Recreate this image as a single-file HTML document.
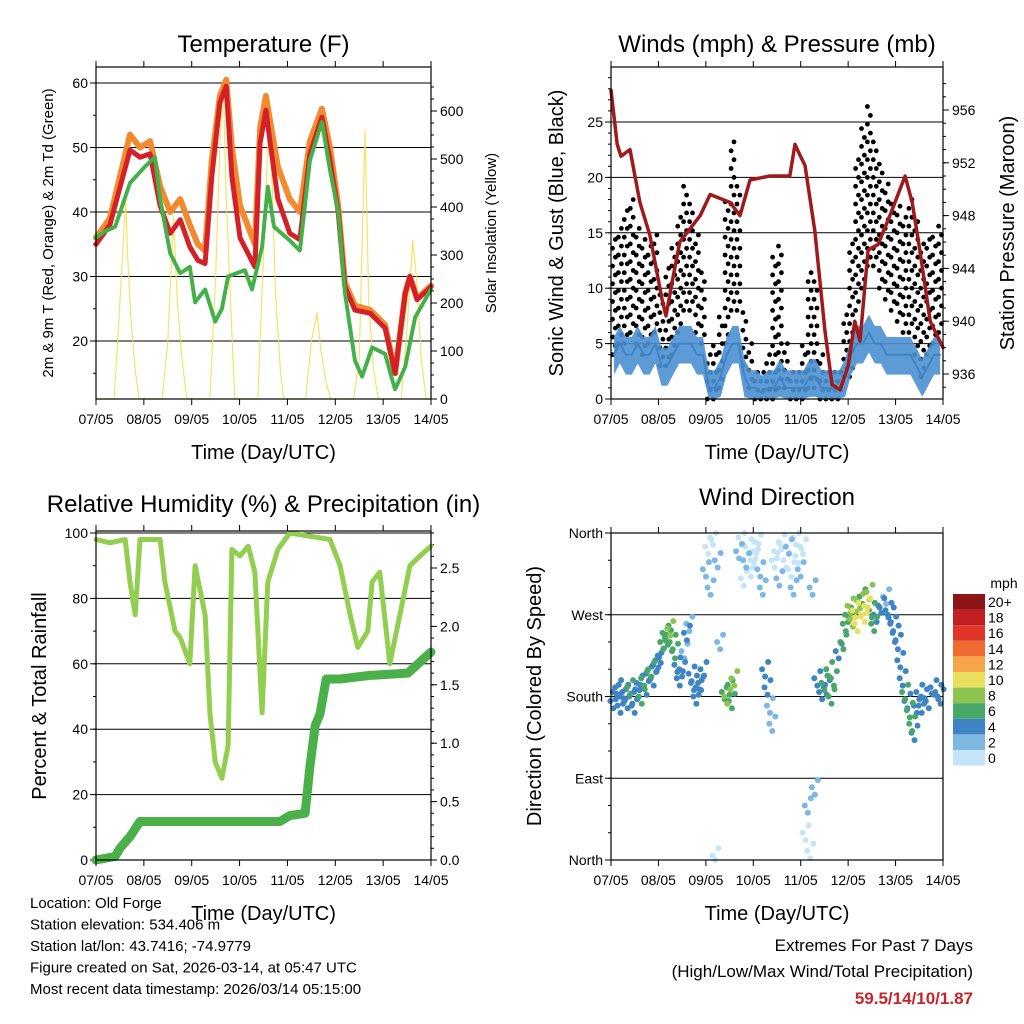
<!DOCTYPE html>
<html><head><meta charset="utf-8">
<style>
body{margin:0;background:#fff;}
svg{display:block;font-family:"Liberation Sans",sans-serif;}
</style></head>
<body>
<svg id="fig" width="1024" height="1024" viewBox="0 0 1024 1024" xmlns="http://www.w3.org/2000/svg"></svg>
<script>
// ---------- DATA ----------
const dayLabels = ["07/05","08/05","09/05","10/05","11/05","12/05","13/05","14/05"];
// Temperature panel
const tempTime = [0,.29,.71,.92,1.13,1.34,1.55,1.76,1.96,2.13,2.28,2.42,2.59,2.72,2.84,3.01,3.32,3.43,3.55,3.64,3.80,4.05,4.26,4.47,4.72,4.89,5.06,5.20,5.41,5.73,6.04,6.25,6.46,6.56,6.71,7];
const tempRed    = [35,38,49.6,48.5,49,41,36.7,38.8,34.6,32.5,32,45.5,57,59.5,45.5,36,31.5,50.7,55.8,50.7,42,36.7,35.7,49,54.7,48,40,28.4,24.8,24.3,22,15,27.4,30,26.4,28.4];
const tempOrange = [36,39,52,50,51,44,40,42,38,35,34,48,58,60.5,50,41,35,53,58,54,47,42,40,51,56,50,41,29,25.5,24.8,22.5,15,27.4,30,26.6,28.6];
const dewTime = [0,.19,.40,.71,1.02,1.23,1.34,1.55,1.76,1.96,2.07,2.28,2.49,2.63,2.76,3.11,3.26,3.47,3.59,3.72,4.03,4.26,4.47,4.72,4.89,5.06,5.20,5.41,5.56,5.77,6.04,6.19,6.25,6.46,6.67,7];
const dewGreen = [36,37,37.7,44.5,47,48.5,42,33.6,30.5,31.5,26,28,23,25,30,31,28,34.6,44,37.7,35.7,34,48,54,46.5,40,27.5,17,14.5,19,18,14,12.5,16,23.7,28];
const solarTime = [0,.38,.5,.62,.66,.72,.82,.9,1.38,1.5,1.62,1.7,1.8,1.9,2.38,2.5,2.6,2.66,2.72,2.82,2.9,3.38,3.5,3.62,3.68,3.75,3.85,3.92,4.38,4.5,4.62,4.7,4.8,4.9,5.38,5.5,5.62,5.7,5.8,5.9,6.38,6.5,6.62,6.7,6.8,6.9,7];
const solarVal  = [0,0,200,420,300,180,60,0,0,120,380,200,80,0,0,250,560,650,420,180,0,0,300,600,450,220,60,0,0,120,180,100,40,0,0,80,560,200,60,0,0,150,330,250,80,0,0];
// Winds panel (3-hour bins, 8 per day)
const gustLo = [4,5,5,6,5,4,5,6, 3,3,4,6,8,8,6,5, 0,0,1,5,8,8,3,1, 0,0,0,0,1,1,0,0, 0,1,1,0,0,0,0,2, 2,8,10,12,12,10,9,8, 7,6,6,4,2,4,5,6];
const gustHi = [15,16,17,18,16,15,14,15, 10,12,14,17,20,18,15,12, 4,5,8,18,24,20,8,5, 3,3,4,13,14,5,3,3, 5,12,11,4,3,3,3,8, 14,22,25,27,24,22,20,18, 18,17,18,16,14,15,15,16];
const windMean = [4,5,4,4,5,4,4,5, 3,3,4,5,5,5,4,4, 1,1,2,4,5,5,2,1, 1,0.5,1,1,2,1,1,1, 1,2,2,1,1,1,1,2, 4,5,5,6,5,5,4,4, 4,4,4,3,2,3,4,4];
const presTime = [0,.13,.21,.40,.61,.82,1.08,1.16,1.29,1.45,1.88,2.09,2.51,2.72,2.93,3.35,3.77,3.88,3.98,4.09,4.30,4.51,4.66,4.83,5.00,5.14,5.25,5.42,5.63,5.88,6.20,6.35,6.51,6.73,7];
const presVal  = [957.5,953.4,952.5,953,949,946.5,941.6,940.4,943,946,948,949.6,949,948,950.7,951,951,953.4,952.6,951.8,946.8,939.3,935.2,934.8,936.6,940,938.5,945.4,945.8,948,951,949,945.4,940,938];
// Humidity / precip panel
const rhTime = [0,.29,.61,.71,.82,.92,1.34,1.44,1.65,1.76,1.96,2.07,2.28,2.38,2.49,2.63,2.76,2.84,3.01,3.18,3.32,3.47,3.59,3.80,4.05,4.89,5.10,5.31,5.47,5.68,5.77,5.93,6.14,6.35,6.56,6.77,7];
const rhVal  = [98,97,98,85,75,98,98,85,70,68,60,90,75,45,30,25,35,95,93,96,88,45,85,95,100,98,90,75,65,70,85,88,60,75,90,93,96];
const rainTime = [0,.4,.5,.71,.92,3.84,4.05,4.37,4.47,4.58,4.68,4.81,5.1,5.7,6.52,6.73,7];
const rainVal  = [0,0.03,0.1,0.2,0.33,0.33,0.38,0.4,0.8,1.15,1.25,1.55,1.55,1.58,1.6,1.68,1.78];
// Wind direction panel
const wdTime = [0.05,0.1,0.15,0.2,0.25,0.3,0.35,0.4,0.45,0.5,0.55,0.6,0.65,0.7,0.75,0.8,0.85,0.9,0.95,
1.0,1.05,1.1,1.15,1.2,1.25,1.3,1.35,1.4,1.45,1.5,1.55,1.6,1.65,1.7,1.75,1.8,1.85,1.9,1.95,
2.0,2.05,2.1,2.15,2.2,2.25,2.3,2.4,2.45,2.5,2.55,2.6,2.7,2.75,2.8,2.85,2.9,2.95,
3.0,3.05,3.1,3.15,3.2,3.25,3.3,3.35,3.4,3.45,3.5,3.55,3.6,3.7,3.75,3.8,3.85,3.9,3.95,
4.0,4.05,4.1,4.15,4.2,4.25,4.3,4.35,4.45,4.5,4.55,4.6,4.65,4.7,4.8,4.9,4.95,
5.0,5.05,5.1,5.15,5.2,5.25,5.3,5.35,5.4,5.45,5.5,5.55,5.6,5.7,5.8,5.85,5.9,5.95,
6.0,6.05,6.1,6.15,6.2,6.25,6.3,6.35,6.4,6.45,6.5,6.55,6.6,6.7,6.8,6.9,6.95];
const wdDir = [175,185,190,170,180,185,175,190,180,170,185,195,180,200,190,205,210,200,215,
220,225,240,250,245,255,240,230,215,200,210,230,250,260,205,195,180,190,195,210,
320,345,300,355,5,330,240,185,180,190,175,200,340,355,310,330,345,320,
330,340,350,320,300,210,190,170,150,330,340,310,350,330,345,320,300,355,335,
320,345,30,60,10,300,80,200,185,195,190,210,180,200,230,240,260,
270,280,265,275,260,285,290,270,280,295,275,260,270,280,290,275,270,260,
250,240,220,200,185,175,165,150,140,170,185,170,180,175,190,185,180];
const wdSpd = [3,4,3,4,3,4,3,5,4,3,4,4,5,6,4,4,5,4,4,
4,4,5,6,6,7,6,5,4,4,3,2,3,2,3,4,3,4,4,3,
1,0,1,0,0,1,2,6,7,6,5,7,1,0,0,1,0,0,
0,0,0,1,1,3,3,2,1,0,0,1,0,0,1,0,1,0,0,
1,0,0,1,0,1,1,3,4,5,4,5,6,5,4,5,6,
6,7,8,10,9,8,6,10,9,7,6,5,4,3,2,3,4,4,
4,3,4,4,5,4,5,6,4,4,3,4,3,3,4,3,4];
const speedLabels = ["20+","18","16","14","12","10","8","6","4","2","0"];
const speedColors = ["#8e1416","#c21f24","#e0362a","#f06a32","#f7a54a","#e8e05c","#8dc44e","#48a867","#3f85c4","#7db8e3","#c4e5f7"];

// ---------- HELPERS ----------
const NS="http://www.w3.org/2000/svg";
const svg=document.getElementById('fig');
function el(tag,attrs,parent){const e=document.createElementNS(NS,tag);for(const k in attrs)e.setAttribute(k,attrs[k]);(parent||svg).appendChild(e);return e;}
function txt(s,x,y,size,anchor,parent,extra){const t=el('text',Object.assign({x:x,y:y,'font-size':size,'text-anchor':anchor||'middle',fill:'#000'},extra||{}),parent);t.textContent=s;return t;}
function lin(x0,x1,d0,d1,v){return x0+(v-d0)*(x1-x0)/(d1-d0);}

function panel(name,L,R,T,B){
  const g=el('g',{});
  
  
  return {g,L,R,T,B,x:d=>lin(L,R,0,7,d)};
}
function frame(p){
  const r=el('rect',{x:p.L,y:p.T,width:p.R-p.L,height:p.B-p.T,fill:'none',stroke:'#000','stroke-width':1.2},p.g);
  
  
}
function xAxis(p){
  const ax=el('g',{},p.g);
  
  
  for(let i=0;i<=7;i++){
    const x=p.x(i);
    el('line',{x1:x,x2:x,y1:p.B,y2:p.B+6,stroke:'#000'},ax);
    el('line',{x1:x,x2:x,y1:p.T,y2:p.T-6,stroke:'#000'},ax);
    const t=txt(dayLabels[i],x,p.B+25,14,'middle',ax);
    
    
  }
  const tt=txt('Time (Day/UTC)',(p.L+p.R)/2,p.B+60,20,'middle',ax);
  
  
}
function yAxisLeft(p,ticks,labels,y,grid,minors){
  const ax=el('g',{},p.g);
  
  
  (minors||[]).forEach(v=>{const yy=y(v);el('line',{x1:p.L-3,x2:p.L,y1:yy,y2:yy,stroke:'#000'},ax);});
  ticks.forEach((v,i)=>{
    const yy=y(v);
    el('line',{x1:p.L-6,x2:p.L,y1:yy,y2:yy,stroke:'#000'},ax);
    if(grid)el('line',{x1:p.L,x2:p.R,y1:yy,y2:yy,stroke:'#000','stroke-width':1},ax);
    const t=txt(labels[i],p.L-8,yy+5,14,'end',ax);
    
    
  });
}
function yAxisRight(p,ticks,labels,y,minors){
  const ax=el('g',{},p.g);
  
  
  (minors||[]).forEach(v=>{const yy=y(v);el('line',{x1:p.R,x2:p.R+3,y1:yy,y2:yy,stroke:'#000'},ax);});
  ticks.forEach((v,i)=>{
    const yy=y(v);
    el('line',{x1:p.R,x2:p.R+6,y1:yy,y2:yy,stroke:'#000'},ax);
    const t=txt(labels[i],p.R+9,yy+5,14,'start',ax);
    
    
  });
}
function rotTitle(s,x,y,size,parent,name){
  const t=txt(s,x,y,size,'middle',parent,{transform:`rotate(-90 ${x} ${y})`});
  
  
}
function title(p,s){
  const t=txt(s,(p.L+p.R)/2,52,24,'middle',p.g);
  
  
  return t;
}
function path(p,xs,ys,xf,yf,style,name){
  let d='';xs.forEach((v,i)=>{d+=(i?'L':'M')+xf(v).toFixed(1)+','+yf(ys[i]).toFixed(1);});
  const e=el('path',Object.assign({d:d,fill:'none','stroke-linejoin':'round','stroke-linecap':'round'},style),p.g);
  
  
  return e;
}
function range(a,b,s){const r=[];for(let v=a;v<=b+1e-9;v+=s)r.push(+v.toFixed(3));return r;}

// ---------- PANEL 1: Temperature ----------
{
  const p=panel('temperature-panel',96,431,67,399);
  const y=v=>lin(83,341,60,20,v);
  const ys=v=>lin(399,111,0,600,v);
  yAxisLeft(p,[20,30,40,50,60],['20','30','40','50','60'],y,true,range(15,60,5));
  yAxisRight(p,[0,100,200,300,400,500,600],['0','100','200','300','400','500','600'],ys,range(0,650,25));
  path(p,solarTime,solarVal,p.x,ys,{stroke:'#f7dc4a','stroke-width':1.2,opacity:0.85},'solar-insolation-line');
  path(p,tempTime,tempOrange,p.x,y,{stroke:'#f28a30','stroke-width':6},'temp-9m-orange-line');
  path(p,tempTime,tempRed,p.x,y,{stroke:'#d42127','stroke-width':5},'temp-2m-red-line');
  path(p,dewTime,dewGreen,p.x,y,{stroke:'#44b04a','stroke-width':4,'stroke-dasharray':'3 1.5'},'dewpoint-green-line');
  frame(p);xAxis(p);
  title(p,'Temperature (F)');
  rotTitle('2m & 9m T (Red, Orange) & 2m Td (Green)',53,233,15,p.g,'y-axis-title');
  rotTitle('Solar Insolation (Yellow)',496,233,15,p.g,'y2-axis-title');
}
// ---------- PANEL 2: Winds ----------
{
  const p=panel('winds-panel',611,943,67,399);
  const y=v=>lin(399,122,0,25,v);
  const yp=v=>lin(374,110,936,956,v);
  yAxisLeft(p,[0,5,10,15,20,25],['0','5','10','15','20','25'],y,true,range(0,29,1));
  yAxisRight(p,[936,940,944,948,952,956],['936','940','944','948','952','956'],yp,range(935,958,1));
  const bw=(p.R-p.L)/56;
  const gg=el('g',{},p.g);
  
  
  gustLo.forEach((lo,i)=>{
    const hi=gustHi[i];
    for(let k=0;k<2;k++){
      const xx=p.L+bw*(i+(k+0.5)/2);
      for(let v=lo+k*0.8;v<=hi;v+=1.6){
        el('circle',{cx:xx.toFixed(1),cy:y(v).toFixed(1),r:2.4,fill:'#000'},gg);
      }
    }
  });
  const mt=windMean.map((v,i)=>(i+0.5)/8);
  const band=el('path',{fill:'#4a90d0',opacity:0.9},p.g);
  let d='';mt.forEach((t,i)=>{d+=(i?'L':'M')+p.x(t)+','+y(windMean[i]+1.6);});
  for(let i=mt.length-1;i>=0;i--)d+='L'+p.x(mt[i])+','+y(Math.max(0,windMean[i]-1.8));
  band.setAttribute('d',d+'Z');
  
  
  path(p,mt,windMean,p.x,y,{stroke:'#3f85c4','stroke-width':2},'sonic-wind-line');
  path(p,presTime,presVal,p.x,yp,{stroke:'#a01a1c','stroke-width':3.5},'pressure-line');
  frame(p);xAxis(p);
  title(p,'Winds (mph) & Pressure (mb)');
  rotTitle('Sonic Wind & Gust (Blue, Black)',563,233,20,p.g,'y-axis-title');
  rotTitle('Station Pressure (Maroon)',1014,233,20,p.g,'y2-axis-title');
}
// ---------- PANEL 3: RH & precip ----------
{
  const p=panel('humidity-panel',96,431,531,860);
  const y=v=>lin(860,533,0,100,v);
  const yr=v=>lin(860,568,0,2.5,v);
  yAxisLeft(p,[0,20,40,60,80,100],['0','20','40','60','80','100'],y,true,range(0,100,10));
  yAxisRight(p,[0,0.5,1,1.5,2,2.5],['0.0','0.5','1.0','1.5','2.0','2.5'],yr,range(0,2.8,0.1));
  path(p,rhTime,rhVal,p.x,y,{stroke:'#92cf50','stroke-width':5},'relative-humidity-line');
  path(p,rainTime,rainVal,p.x,yr,{stroke:'#4bb04a','stroke-width':9},'precipitation-line');
  frame(p);xAxis(p);
  const t=title(p,'Relative Humidity (%) & Precipitation (in)');t.setAttribute('y',512);
  rotTitle('Percent & Total Rainfall',46,696,20,p.g,'y-axis-title');
}
// ---------- PANEL 4: Wind direction ----------
{
  const p=panel('wind-direction-panel',611,943,533,860);
  const y=v=>lin(860,533,0,360,v);
  yAxisLeft(p,[0,90,180,270,360],['North','East','South','West','North'],y,false,range(0,360,30));
  [90,180,270].forEach(v=>{const l=el('line',{x1:p.L,x2:p.R,y1:y(v),y2:y(v),stroke:'#000'},p.g);});
  const sg=el('g',{},p.g);
  
  
  const col=s=>speedColors[10-Math.min(10,Math.round(s/2))];
  const order=wdTime.map((t,i)=>i).sort((a,b)=>wdSpd[a]-wdSpd[b]);
  order.forEach(i=>{
    [0,-8,8].forEach((off,k)=>{
      el('circle',{cx:(p.x(wdTime[i])+k*3-3).toFixed(1),cy:y(Math.min(360,Math.max(0,wdDir[i]+off))).toFixed(1),r:3,fill:col(wdSpd[i])},sg);
    });
  });
  frame(p);xAxis(p);
  const t=title(p,'Wind Direction');t.setAttribute('y',505);
  rotTitle('Direction (Colored By Speed)',541,696,20,p.g,'y-axis-title');
  const cb=el('g',{},p.g);
  
  
  txt('mph',1004,588,14,'middle',cb);
  speedLabels.forEach((lab,i)=>{
    const yy=594+i*15.6;
    const r=el('rect',{x:953,y:yy,width:32,height:15.6,fill:speedColors[i]},cb);
    
    
    const tt=txt(lab,988,yy+13,14,'start',cb);
    
    
  });
}
// ---------- FOOTER ----------
{
  const f=el('g',{});
  
  
  ["Location: Old Forge","Station elevation: 534.406 m","Station lat/lon: 43.7416; -74.9779","Figure created on Sat, 2026-03-14, at 05:47 UTC","Most recent data timestamp: 2026/03/14 05:15:00"].forEach((s,i)=>txt(s,30,908+i*21.5,15,'start',f));
  const e=el('g',{});
  
  
  txt('Extremes For Past 7 Days',973,951,17,'end',e);
  txt('(High/Low/Max Wind/Total Precipitation)',973,977,17,'end',e);
  txt('59.5/14/10/1.87',973,1004,17,'end',e,{fill:'#c8242a','font-weight':'bold'});
}
</script>
</body></html>
